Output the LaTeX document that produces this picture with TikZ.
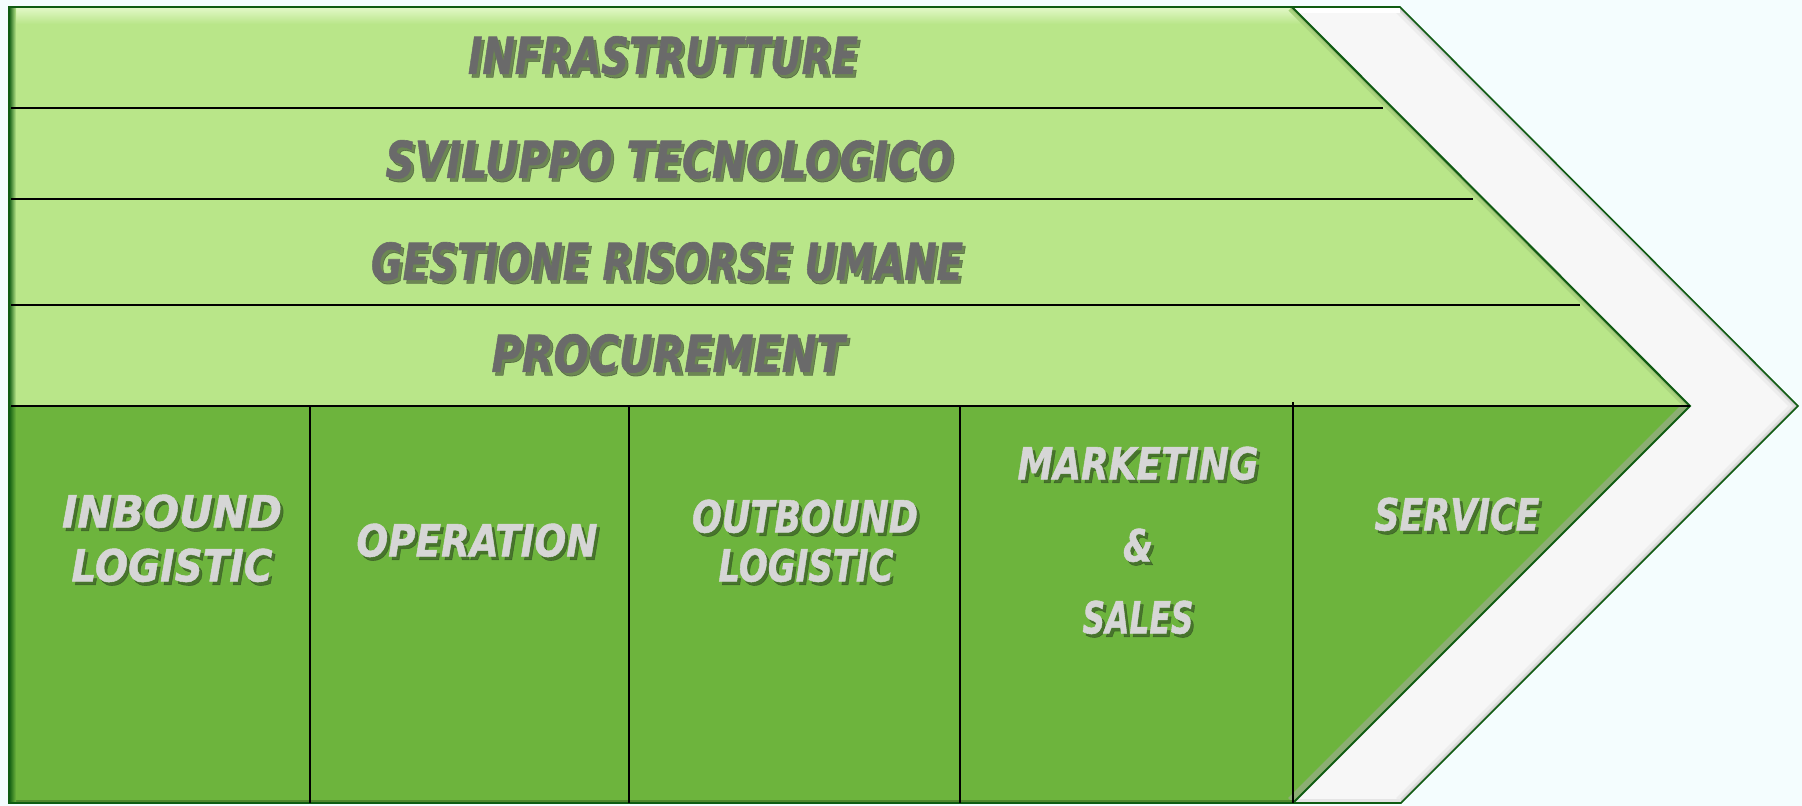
\documentclass[tikz,border=0pt]{standalone}
\usepackage{fontspec}
\newfontfamily\vcfont{DejaVu Sans}[FakeBold=1.2]
\definecolor{bgc}{HTML}{F4FDFE}
\definecolor{upg}{HTML}{B9E689}
\definecolor{uphi}{HTML}{E3F8C9}
\definecolor{lowg}{HTML}{6DB43D}
\definecolor{bandc}{HTML}{F7F7F7}
\definecolor{edgec}{HTML}{0F5C12}
\definecolor{uptext}{HTML}{6A6A6A}
\definecolor{upshadc}{HTML}{2E3A28}
\definecolor{lowtext}{HTML}{D6D6D6}
\definecolor{lowshadc}{HTML}{2F4A22}
\definecolor{bevelg}{HTML}{8CAE73}
\tikzset{
  sepline/.style={black, line width=2.2*0.2845pt},
  labbase/.style={inner sep=0pt, text depth=0pt},
  upfont/.style={labbase, font=\vcfont\bfseries\itshape\fontsize{14.5}{16}\selectfont},
  lowfont/.style={labbase, font=\vcfont\bfseries\itshape\fontsize{12.6}{14}\selectfont},
  uplab/.style={upfont, text=uptext},
  upshad/.style={upfont, text=upshadc, opacity=0.55, xshift=0.03cm, yshift=-0.035cm},
  lowlab/.style={lowfont, text=lowtext},
  lowshad/.style={lowfont, text=lowshadc, opacity=0.6, xshift=0.03cm, yshift=-0.035cm},
}
% #1 = target width in px (1px = 0.01cm), #2 = text
\newcommand\fw[2]{\resizebox{#1\dimexpr 0.01cm\relax}{\height}{#2}}
% #1 kind (up/low), #2 name, #3 position, #4 width, #5 text
\newcommand\vclabel[5]{%
  \node[#1shad] (#2s) at (#3) {\fw{#4}{#5}};
  \node[#1lab] (#2) at (#3) {\fw{#4}{#5}};}
\begin{document}
\begin{tikzpicture}[x=0.01cm, y=-0.01cm]
\useasboundingbox (0,0) rectangle (1802,806);
\fill[bgc] (0,0) rectangle (1802,806);
% coordinates
\coordinate (TL) at (9,7);
\coordinate (GT) at (1292,7);
\coordinate (BT) at (1400,7);
\coordinate (TIP) at (1798,406);
\coordinate (GTIP) at (1690,406);
\coordinate (BB) at (1401,803);
\coordinate (GB) at (1293,803);
\coordinate (BL) at (9,803);
\coordinate (ML) at (9,406);
% white band
\fill[bandc] (GT) -- (BT) -- (TIP) -- (BB) -- (GB) -- (GTIP) -- cycle;
\begin{scope}
  \clip (GT) -- (BT) -- (TIP) -- (BB) -- (GB) -- (GTIP) -- cycle;
  \draw[line width=14*0.2845pt, black!7] (BT) -- (TIP) -- (BB);
  \draw[line width=7*0.2845pt, black!14] (BT) -- (TIP) -- (BB);
  \draw[line width=3*0.2845pt, black!26] (BT) -- (TIP) -- (BB);
  \draw[line width=12*0.2845pt, white] (GT) -- (BT);
  \draw[line width=8*0.2845pt, black!10] (GB) -- (BB);
\end{scope}
% upper green
\fill[upg] (TL) -- (GT) -- (GTIP) -- (ML) -- cycle;
\begin{scope}
  \clip (TL) -- (GT) -- (GTIP) -- (ML) -- cycle;
  \shade[top color=uphi, bottom color=upg] (9,7) rectangle (1300,24);
  \draw[line width=10*0.2845pt, upg!92!black] (GT) -- (GTIP);
  \draw[line width=4*0.2845pt, upg!80!black] (GT) -- (GTIP);
\end{scope}
% lower green
\fill[lowg] (ML) -- (GTIP) -- (GB) -- (BL) -- cycle;
\begin{scope}
  \clip (ML) -- (GTIP) -- (GB) -- (BL) -- cycle;
  \draw[line width=14*0.2845pt, bevelg] (GTIP) -- (GB);
  \draw[line width=6*0.2845pt, lowg!75!black] (BL) -- (GB);
\end{scope}
% left dark edge
\shade[left color=edgec, right color=upg] (9,7) rectangle (16,406);
\shade[left color=edgec, right color=lowg] (9,406) rectangle (16,803);
% outlines
\draw[edgec, line width=1.6*0.2845pt] (TL) -- (BT) -- (TIP) -- (BB) -- (BL) -- cycle;
\draw[edgec, line width=2*0.2845pt] (GT) -- (GTIP) -- (GB);
% separators
\draw[sepline] (11,108) -- (1383,108);
\draw[sepline] (11,199) -- (1473,199);
\draw[sepline] (11,305) -- (1580,305);
\draw[sepline] (11,406) -- (GTIP);
\draw[sepline] (310,406) -- (310,803);
\draw[sepline] (629,406) -- (629,803);
\draw[sepline] (960,406) -- (960,803);
\draw[sepline] (1293,402) -- (GB);
% upper labels
\vclabel{up}{infra}{663,55}{390}{INFRASTRUTTURE}
\vclabel{up}{svil}{669,159}{567}{SVILUPPO TECNOLOGICO}
\vclabel{up}{gest}{667,261}{592}{GESTIONE RISORSE UMANE}
\vclabel{up}{proc}{668,353}{353}{PROCUREMENT}
% lower labels
\vclabel{low}{inbA}{172,511}{220}{INBOUND}
\vclabel{low}{inbB}{172,565}{201}{LOGISTIC}
\vclabel{low}{oper}{477,540}{241}{OPERATION}
\vclabel{low}{outA}{805,516}{226}{OUTBOUND}
\vclabel{low}{outB}{806,565}{175}{LOGISTIC}
\vclabel{low}{mktA}{1138,463}{241}{MARKETING}
\vclabel{low}{mktB}{1138,545}{30}{\&}
\vclabel{low}{mktC}{1138,617}{111}{SALES}
\vclabel{low}{serv}{1457,514}{165}{SERVICE}
\end{tikzpicture}
\end{document}
